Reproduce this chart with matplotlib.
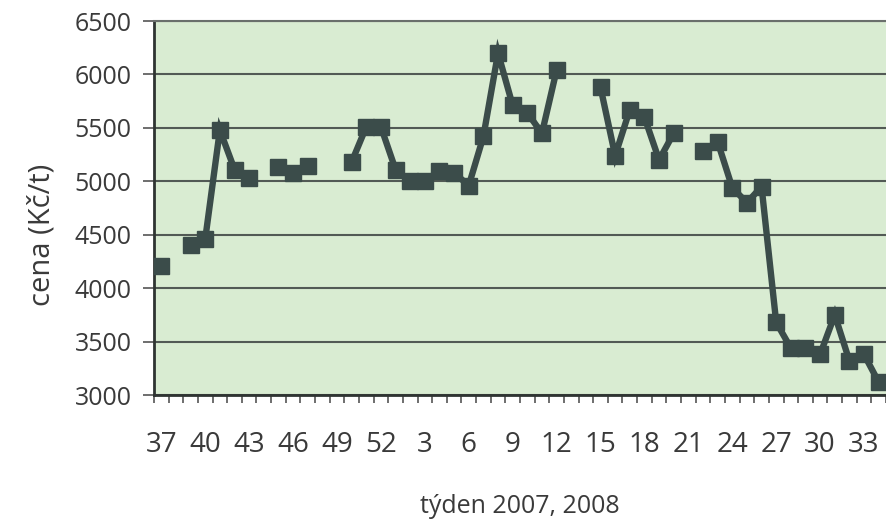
import matplotlib
matplotlib.use("Agg")
import matplotlib.pyplot as plt
import numpy as np

plt.rcParams['font.family'] = ['Open Sans', 'DejaVu Sans']

# weeks 37-52 of 2007, then 1-34 of 2008
weeks = list(range(37, 53)) + list(range(1, 35))
prices = [4210, None, 4400, 4460, 5480, 5110, 5030, None, 5130, 5080,
          5140, None, None, 5180, 5510, 5510, 5110, 5000, 5000, 5100,
          5080, 4960, 5420, 6200, 5710, 5640, 5450, 6040, None, None,
          5880, 5240, 5670, 5600, 5200, 5450, None, 5280, 5370, 4940,
          4800, 4950, 3680, 3440, 3440, 3380, 3750, 3320, 3380, 3120]
y_ticks = [3000, 3500, 4000, 4500, 5000, 5500, 6000, 6500]
x_title = "týden 2007, 2008"
y_title = "cena (Kč/t)"

text_col = '#3a3a3a'
line_col = '#3b4c4a'

fig = plt.figure(figsize=(8.86, 5.19), dpi=100)
ax = fig.add_axes([0.1738, 0.2389, 0.8262, 0.7206])
ax.set_facecolor('#d9ecd2')

x = np.arange(len(weeks))
y = np.array([np.nan if v is None else v for v in prices], dtype=float)
ax.plot(x, y, color=line_col, linewidth=4.6, marker='s', markersize=11,
        markerfacecolor=line_col, markeredgecolor=line_col, solid_joinstyle='miter',
        clip_on=True, zorder=3)

ax.set_ylim(3000, 6500)
ax.set_xlim(-0.42, 49.4)
ax.set_yticks(y_ticks)
ax.set_yticklabels([str(v) for v in y_ticks])
ax.grid(axis='y', color='#525a55', linewidth=1.5, zorder=1)
ax.set_axisbelow(True)

# x ticks: labels every 3rd week, tick marks at category boundaries
major = x[::3]
ax.set_xticks(major)
ax.set_xticklabels([str(weeks[i]) for i in major])
ax.set_xticks(np.arange(-0.5, len(weeks) + 0.5, 1.0), minor=True)
ax.tick_params(axis='x', which='minor', length=6, width=1.2, color='#555555', direction='out')
ax.tick_params(axis='x', which='major', length=0, pad=26, labelsize=20, labelcolor=text_col)
ax.tick_params(axis='y', which='major', length=8, width=1.2, color='#555555', pad=8,
               labelsize=18, labelcolor=text_col)

ax.spines['right'].set_visible(False)
ax.spines['top'].set_color('#6a6f6c')
ax.spines['top'].set_linewidth(1.5)
ax.spines['left'].set_color('#2f3432')
ax.spines['left'].set_linewidth(2.0)
ax.spines['bottom'].set_color('#2f3432')
ax.spines['bottom'].set_linewidth(2.0)

ax.set_xlabel(x_title, fontsize=18, color=text_col)
ax.xaxis.set_label_coords(0.5, -0.297)
ax.xaxis.label.set_va('center')
ax.set_ylabel(y_title, fontsize=21, color=text_col)
ax.yaxis.set_label_coords(-0.153, 0.428)
ax.yaxis.label.set_va('center')

fig.savefig('out.png', dpi=100)
